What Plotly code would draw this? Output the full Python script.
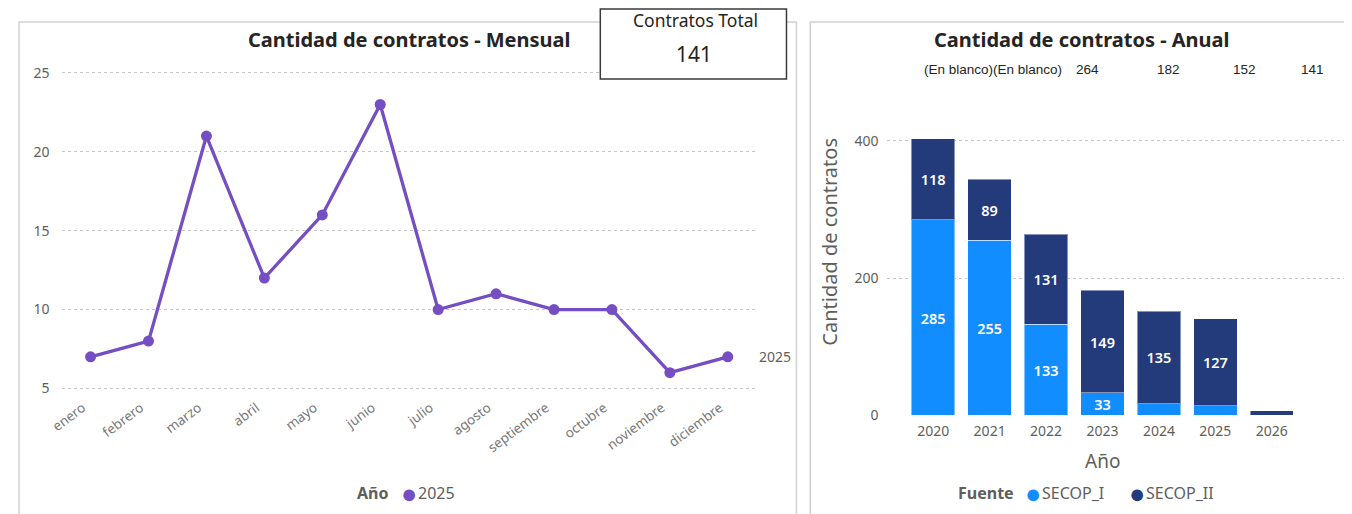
import plotly.graph_objects as go

# ---------------- data ----------------
meses = ["enero", "febrero", "marzo", "abril", "mayo", "junio", "julio",
         "agosto", "septiembre", "octubre", "noviembre", "diciembre"]
contratos_2025 = [7, 8, 21, 12, 16, 23, 10, 11, 10, 10, 6, 7]
serie_mensual = "2025"
leyenda_mensual = "Año"

anios = ["2020", "2021", "2022", "2023", "2024", "2025", "2026"]
secop_i = [285, 255, 133, 33, 17, 14, 0]
secop_ii = [118, 89, 131, 149, 135, 127, 7]
fuentes = ["SECOP_I", "SECOP_II"]
leyenda_anual = "Fuente"
eje_x_anual = "Año"
eje_y_anual = "Cantidad de contratos"

fila_superior = ["(En blanco)(En blanco)", "264", "182", "152", "141"]
kpi_titulo = "Contratos Total"
kpi_valor = "141"

# page body has an 8px margin; the capture is slightly squeezed vertically
OFF = 8
SY = 0.984
W, H = 1352 - 2 * OFF, 514
def px(x):
    return (x - OFF) / W
def py(y):
    return 1 - ((y - OFF) / SY) / H

FONT = "Noto Sans"
GRAY = "#605E5C"
DARK = "#252423"
PURPLE = "#744EC2"
BLUE = "#118DFF"
NAVY = "#233A7B"
colores = [BLUE, NAVY]

fig = go.Figure()

# ---------------- left: monthly line ----------------
fig.add_trace(go.Scatter(
    x=meses, y=contratos_2025, mode="lines+markers",
    line=dict(color=PURPLE, width=3.3), marker=dict(color=PURPLE, size=11),
    xaxis="x", yaxis="y", showlegend=False, name=serie_mensual,
))

# ---------------- right: annual stacked bars ----------------
def labels(vals):
    return [str(v) if v >= 30 else "" for v in vals]

for name, vals, col in zip(fuentes, [secop_i, secop_ii], colores):
    fig.add_trace(go.Bar(
        x=anios, y=vals, name=name,
        marker=dict(color=col, line=dict(color="rgba(255,255,255,0.45)", width=1)),
        text=labels(vals), textposition="inside", insidetextanchor="middle",
        textangle=0, textfont=dict(color="white", size=14.5, family=FONT, weight=600),
        constraintext="none", width=0.77,
        xaxis="x2", yaxis="y2", showlegend=False,
    ))

grid = dict(showgrid=True, gridcolor="#C8C6C4", griddash="dot", gridwidth=1, zeroline=False)

fig.update_layout(
    width=W, height=H, autosize=False,
    margin=dict(l=0, r=0, t=0, b=0),
    paper_bgcolor="white", plot_bgcolor="white",
    font=dict(family=FONT, color=GRAY, size=12),
    barmode="stack", showlegend=False,
    xaxis=dict(domain=[px(49), px(751)], range=[-0.5, 11.5], tickangle=-37,
               showgrid=False, showline=False, ticks="", tickfont=dict(size=13.5, color="#777777"),
               anchor="y", ticklabelstandoff=2, ticklabelshift=-8),
    yaxis=dict(domain=[py(395), py(62)], range=[4.62, 25.7], tickvals=[5, 10, 15, 20, 25],
               ticks="", tickfont=dict(size=14, color=GRAY), anchor="x", ticklabelstandoff=11, **grid),
    xaxis2=dict(domain=[px(883), px(1344)], range=[-0.81, 7.28], showgrid=False, ticks="",
                tickfont=dict(size=14, color=GRAY), anchor="y2", ticklabelstandoff=6),
    yaxis2=dict(domain=[py(416), py(100)], range=[0, 459.6], tickvals=[0, 200, 400], ticks="",
                tickfont=dict(size=14, color=GRAY), anchor="x2", ticklabelstandoff=8,
                **grid),
)

shapes = [
    dict(type="rect", xref="paper", yref="paper", x0=px(6), x1=px(791), y0=py(530), y1=py(22),
         line=dict(color="#D2D2D2", width=1.5), layer="below"),
    dict(type="rect", xref="paper", yref="paper", x0=px(805), x1=px(1350), y0=py(530), y1=py(22),
         line=dict(color="#D2D2D2", width=1.5), layer="below"),
    dict(type="rect", xref="paper", yref="paper", x0=px(593), x1=px(781), y0=py(79), y1=py(9),
         line=dict(color="#3A3A3A", width=1.5), fillcolor="white", layer="above"),
]
fig.update_layout(shapes=shapes)

ann = [
    dict(text="<b>Cantidad de contratos - Mensual</b>", x=px(400), y=py(40),
         font=dict(size=20, color=DARK)),
    dict(text="<b>Cantidad de contratos - Anual</b>", x=px(1079), y=py(40),
         font=dict(size=20, color=DARK)),
    dict(text=kpi_titulo, x=px(689), y=py(20), font=dict(size=17.5, color=DARK)),
    dict(text=kpi_valor, x=px(688), y=py(54), font=dict(size=21, color=DARK)),
    dict(text=eje_x_anual, x=px(1100), y=py(462), font=dict(size=19, color=GRAY)),
    dict(text=eje_y_anual, x=px(825), y=py(242), textangle=-90, font=dict(size=20, color=GRAY)),
]
top_x = [990, 1085, 1167, 1244, 1312]
for t, xx in zip(fila_superior, top_x):
    ann.append(dict(text=t, x=px(xx), y=py(70), font=dict(size=13.5, color=DARK, family="Liberation Sans")))
for a in ann:
    a.setdefault("xanchor", "center")

# legends drawn as text: bold title, coloured dot, series name
LEG_Y = 494
legend_items = [
    (f"<b>{leyenda_mensual}</b>", 381, "right", GRAY, 16, 0),
    ("●", 400, "center", PURPLE, 27, -1),
    (serie_mensual, 407, "left", GRAY, 16, 0),
    (f"<b>{leyenda_anual}</b>", 1013, "right", GRAY, 16, 0),
    ("●", 1030, "center", colores[0], 27, -1),
    (fuentes[0], 1037, "left", GRAY, 16, 0),
    ("●", 1135, "center", colores[1], 27, -1),
    (fuentes[1], 1142, "left", GRAY, 16, 0),
]
for t, xx, anc, col, sz, dy in legend_items:
    ann.append(dict(text=t, x=px(xx), y=py(LEG_Y + dy), xanchor=anc, font=dict(size=sz, color=col)))

for a in ann:
    a.update(xref="paper", yref="paper", showarrow=False, yanchor="middle")

ann.append(dict(text=serie_mensual, x=meses[-1], y=contratos_2025[-1], xref="x", yref="y",
                showarrow=False, xanchor="left", yanchor="middle", xshift=29,
                font=dict(size=14, color=GRAY)))
fig.update_layout(annotations=ann)

fig.write_html("out.html")
